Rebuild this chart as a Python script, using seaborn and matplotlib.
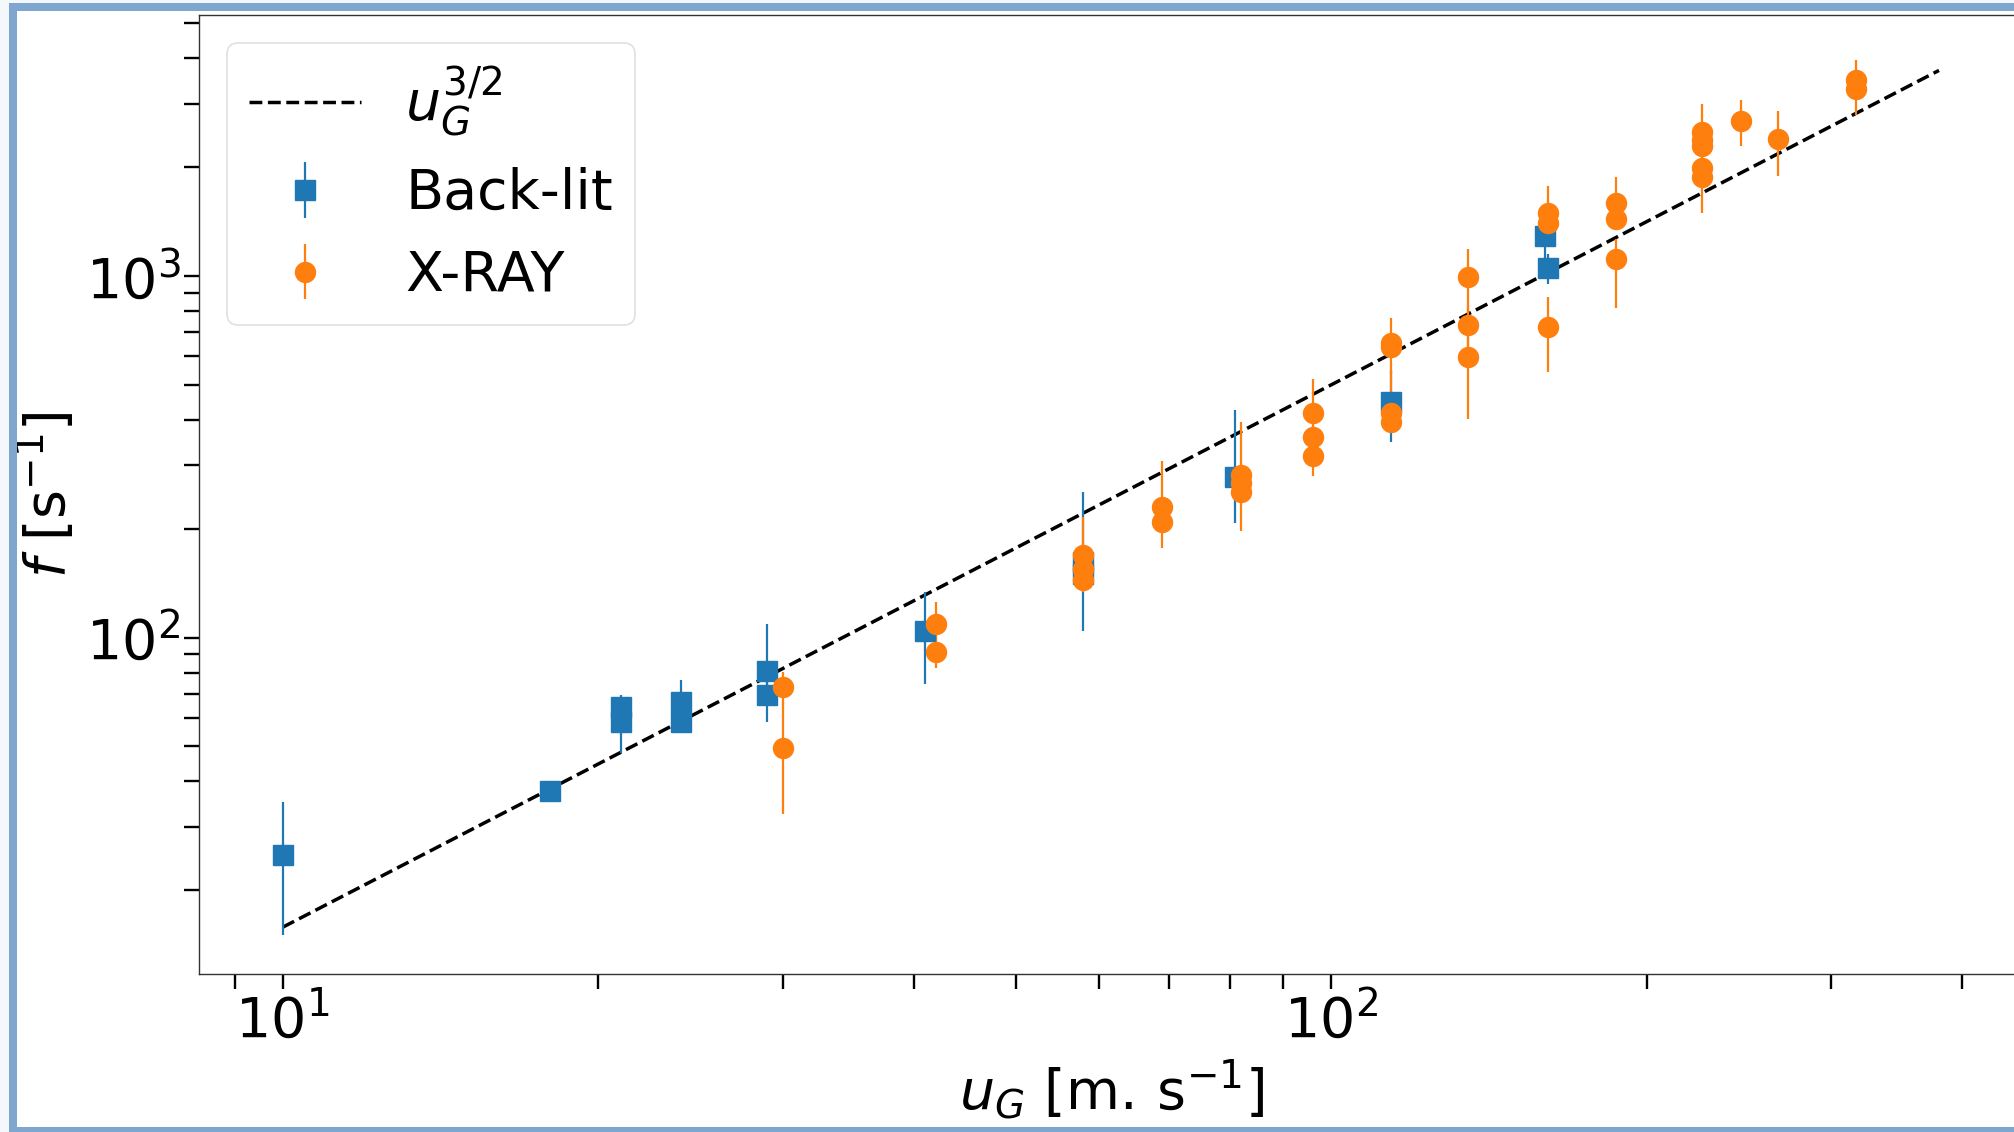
import numpy as np
import pandas as pd
import matplotlib
matplotlib.use("Agg")
import matplotlib.pyplot as plt
import seaborn as sns
from matplotlib.patches import Rectangle

# ---------------- data ----------------
# Back-lit measurements
bl_u = [10, 18, 21, 21, 24, 24, 29, 29, 41, 58, 58, 81, 114, 160, 161]
bl_f = [25, 37.6, 64.4, 58.5, 66.3, 58.4, 81, 69.3, 104, 162, 150, 278, 449, 1293, 1052]
bl_err_lo = [10, 1.5, 4, 10.5, 10, 3, 10, 10.8, 29.5, 58, 8, 70, 101, 170, 100]
bl_err_hi = [10, 1.5, 5, 5, 10, 3, 28, 8, 29.5, 90, 8, 148, 101, 60, 100]

# X-RAY measurements
xr_u = [30, 30, 42, 42, 58, 58, 58, 69, 69, 82, 82, 82, 96, 96, 96,
        114, 114, 114, 114, 135, 135, 135, 161, 161, 161, 187, 187, 187,
        226, 226, 226, 226, 226, 246, 267, 317, 317]
xr_f = [72.8, 49.5, 108.8, 91, 169, 155, 144, 230, 209, 281.5, 267, 253, 417, 358, 318,
        651, 635, 417, 395, 992, 732, 596, 1491, 1399, 724, 1589, 1438, 1112,
        2507, 2378, 2289, 1986, 1883, 2685, 2388, 3484, 3292]
xr_err_lo = [7.6, 17, 16.8, 8.8, 25, 10, 10, 20, 32, 20, 15, 56, 40, 30, 39,
             113, 30, 30, 25, 200, 100, 194, 150, 100, 180, 150, 100, 295,
             300, 200, 200, 200, 392, 396, 497, 300, 503]
xr_err_hi = [7.6, 17, 16.8, 8.8, 47, 10, 10, 78, 20, 112, 15, 20, 102, 30, 30,
             113, 30, 130, 20, 196, 100, 100, 286, 100, 150, 286, 100, 150,
             478, 200, 200, 200, 200, 384, 479, 474, 300]

# u_G^{3/2} reference line (two end points of a straight log-log line)
line_u = [10, 380]
line_f = [15.8, 3704]

# ---------------- style ----------------
sns.set_theme(style="ticks")
plt.rcParams['font.family'] = ['DejaVu Sans']
plt.rcParams['mathtext.fontset'] = 'dejavusans'
for key in ['text.color', 'axes.labelcolor', 'xtick.color', 'ytick.color',
            'xtick.labelcolor', 'ytick.labelcolor']:
    plt.rcParams[key] = 'black'

W, H = 2015, 1132
fig = plt.figure(figsize=(W / 100, H / 100), dpi=100)
fig.patch.set_facecolor('white')

left, right, top, bottom = 199.5, 2020, 15, 974
ax = fig.add_axes([left / W, 1 - bottom / H, (right - left) / W, (bottom - top) / H])
ax.set_xscale('log')
ax.set_yscale('log')

line_df = pd.DataFrame({'u': line_u, 'f': line_f})
sns.lineplot(data=line_df, x='u', y='f', ax=ax, color='black', linestyle='--',
             linewidth=2.5, label=r'$u_G^{3/2}$', zorder=2)

ax.errorbar(bl_u, bl_f, yerr=[bl_err_lo, bl_err_hi], fmt='s', color='#1f77b4',
            ms=14.4, elinewidth=1.6, capsize=0, label='Back-lit')
ax.errorbar(xr_u, xr_f, yerr=[xr_err_lo, xr_err_hi], fmt='o', color='#ff7f0e',
            ms=14.4, elinewidth=1.6, capsize=0, label='X-RAY')

ax.set_xlim(8.33, 454)
ax.set_ylim(11.73, 5272)

fs = 40
ax.tick_params(which='both', direction='out', length=10.8, width=1.7,
               color='black', labelcolor='black', labelsize=fs, pad=3)
for sp in ax.spines.values():
    sp.set_color('#333333')
    sp.set_linewidth(1.0)

ax.set_xlabel(r'$u_G\ [\mathrm{m.\,s^{-1}}]$', fontsize=fs, color='black')
ax.set_ylabel(r'$f\ [\mathrm{s^{-1}}]$', fontsize=fs, color='black')
ax.xaxis.set_label_coords((1112 - left) / (right - left), -(1058 - bottom) / (bottom - top))
ax.yaxis.set_label_coords(-(left - 77) / (right - left), 0.5)

leg = ax.legend(loc='upper left', fontsize=fs, frameon=True, fancybox=True)
leg.get_frame().set_edgecolor('#d9d9d9')
leg.get_frame().set_linewidth(1.2)
for t in leg.get_texts():
    t.set_color('black')

# ---------------- frame around the picture ----------------
light = '#f4f7fb'
blue = '#7ea6cf'
fig.add_artist(Rectangle((0, 0), 9 / W, 1, transform=fig.transFigure,
                         facecolor=light, edgecolor='none', zorder=10))
fig.add_artist(Rectangle((0, 1 - 3 / H), 1, 3 / H, transform=fig.transFigure,
                         facecolor=light, edgecolor='none', zorder=10))
fig.add_artist(Rectangle((9 / W, 0), 8 / W, 1 - 3 / H, transform=fig.transFigure,
                         facecolor=blue, edgecolor='none', zorder=11))
fig.add_artist(Rectangle((9 / W, 1 - 11 / H), 1, 8 / H, transform=fig.transFigure,
                         facecolor=blue, edgecolor='none', zorder=11))
fig.add_artist(Rectangle((9 / W, 0), 1, 5.5 / H, transform=fig.transFigure,
                         facecolor=blue, edgecolor='none', zorder=11))

fig.savefig('out.png', dpi=100)
